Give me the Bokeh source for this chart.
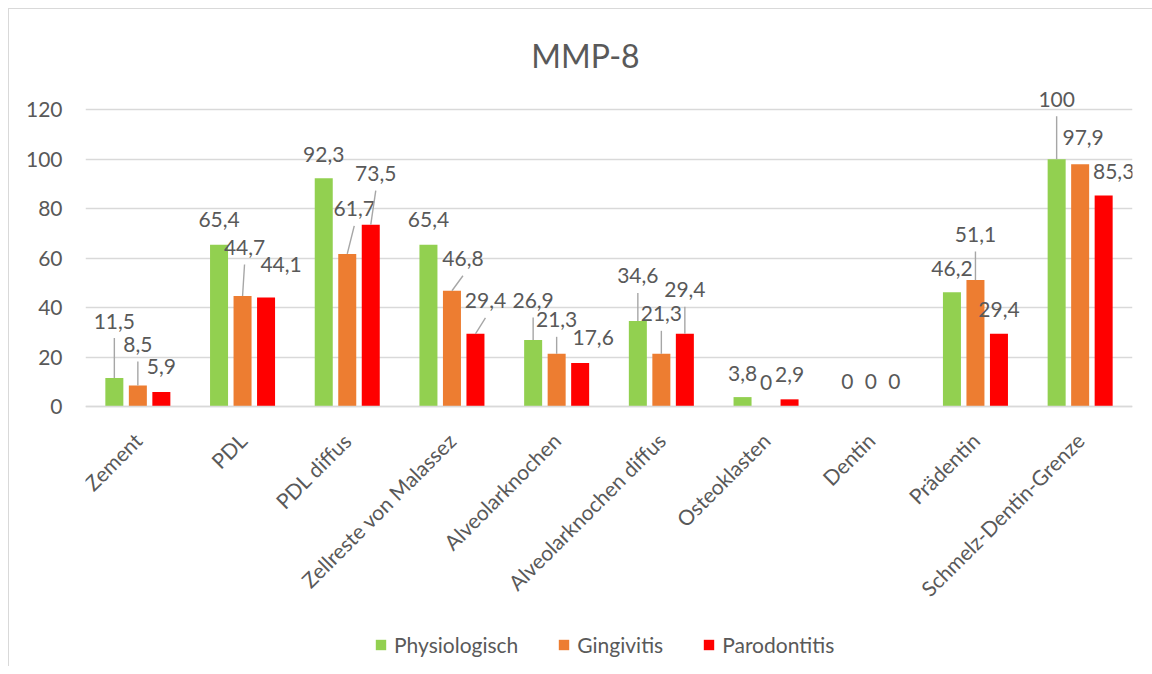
import math
from bokeh.plotting import figure
from bokeh.models import Range1d, FixedTicker, Label, Legend, LegendItem, ColumnDataSource
from bokeh.embed import file_html
from bokeh.resources import INLINE
from bokeh.core.properties import value

# ---------------- data ----------------
title_text = "MMP-8"
categories = ["Zement", "PDL", "PDL diffus", "Zellreste von Malassez", "Alveolarknochen",
              "Alveolarknochen diffus", "Osteoklasten", "Dentin", "Prädentin",
              "Schmelz-Dentin-Grenze"]
series_names = ["Physiologisch", "Gingivitis", "Parodontitis"]
physiologisch = [11.5, 65.4, 92.3, 65.4, 26.9, 34.6, 3.8, 0, 46.2, 100]
gingivitis = [8.5, 44.7, 61.7, 46.8, 21.3, 21.3, 0, 0, 51.1, 97.9]
parodontitis = [5.9, 44.1, 73.5, 29.4, 17.6, 29.4, 2.9, 0, 29.4, 85.3]
y_ticks = [0, 20, 40, 60, 80, 100, 120]

# ---------------- style ----------------
colors = ["#92D050", "#ED7D31", "#FF0000"]
TEXT = "#595959"
GRID = "#d9d9d9"
FONT = "Lato"
FS = "21px"
# data label placement (pixel offset from bar top centre: dx, dy up, leader line?)
label_style = [
    [(0, 57, 1), (0, 25, 0), (0, 24, 0), (0, 25, 0), (0, 39.5, 1), (0, 45, 1), (0, 24, 0), (0, 25, 0), (0, 24, 0), (0, 60, 1)],
    [(0, 41, 1), (2, 48.5, 1), (7, 45, 1), (11, 32, 1), (0, 34, 1), (0, 40, 1), (0, 24, 0), (0, 25, 0), (0, 45.6, 1), (3, 27, 0)],
    [(0, 25, 0), (15, 33, 0), (5, 51, 1), (10, 33, 1), (13, 25.5, 0), (0, 44, 1), (0, 25, 0), (0, 25, 0), (0, 24, 0), (10, 24, 0)],
]

W, H = 1144, 658
ML, MR, MT, MB = 76, 21, 26, 8
ZERO_PX = 397            # pixel row of value 0 inside the figure
YMAX = 150
frame_w = W - ML - MR
ppx = frame_w / len(categories)
ppu = (ZERO_PX - MT) / YMAX
YMIN = -(H - MB - ZERO_PX) / ppu
DODGE = 0.2245
BAR_W = 0.172

p = figure(width=W, height=H, x_range=Range1d(-0.5, len(categories) - 0.5),
           y_range=Range1d(YMIN, YMAX), output_backend="svg", toolbar_location=None,
           min_border_left=ML, min_border_right=MR, min_border_top=MT, min_border_bottom=MB)
p.styles = {"margin-left": "8px", "margin-top": "8px",
            "border-left": "1px solid #d9d9d9", "border-top": "1px solid #d9d9d9"}
p.outline_line_color = None
p.background_fill_color = "white"
p.border_fill_color = "white"

p.xgrid.visible = False
p.ygrid.ticker = FixedTicker(ticks=y_ticks)
p.ygrid.grid_line_color = GRID
p.ygrid.grid_line_width = 1.4

p.yaxis.ticker = FixedTicker(ticks=y_ticks)
p.yaxis.axis_line_color = None
p.yaxis.major_tick_line_color = None
p.yaxis.minor_tick_line_color = None
p.yaxis.major_tick_out = 0
p.yaxis.major_label_standoff = 23
p.yaxis.major_label_text_font = FONT
p.yaxis.major_label_text_font_size = FS
p.yaxis.major_label_text_color = TEXT

p.xaxis.fixed_location = 0
p.xaxis.ticker = FixedTicker(ticks=list(range(len(categories))))
p.xaxis.major_label_overrides = {i: c for i, c in enumerate(categories)}
p.xaxis.axis_line_color = GRID
p.xaxis.axis_line_width = 1.6
p.xaxis.major_tick_line_color = None
p.xaxis.minor_tick_line_color = None
p.xaxis.major_tick_out = 0
p.xaxis.major_label_standoff = 30
p.xaxis.major_label_orientation = math.pi / 4
p.xaxis.major_label_text_font = FONT
p.xaxis.major_label_text_font_size = FS
p.xaxis.major_label_text_color = TEXT

all_series = [physiologisch, gingivitis, parodontitis]
renderers = []
for k, vals in enumerate(all_series):
    xs = [i + (k - 1) * DODGE for i in range(len(categories))]
    src = ColumnDataSource(dict(x=xs, top=vals))
    r = p.vbar(x="x", top="top", bottom=0, width=BAR_W, source=src,
               fill_color=colors[k], line_color=None)
    renderers.append(r)

    lx, ly, txt = [], [], []
    x0, y0, x1, y1 = [], [], [], []
    for i, v in enumerate(vals):
        dx, dy, lead = label_style[k][i]
        tx = xs[i] + dx / ppx
        ty = v + dy / ppu
        lx.append(tx)
        ly.append(ty)
        txt.append(("%g" % v).replace(".", ","))
        if lead:
            x0.append(xs[i]); y0.append(v)
            x1.append(tx); y1.append(ty - 17 / ppu)
    if x0:
        p.segment(x0=x0, y0=y0, x1=x1, y1=y1, line_color="#a6a6a6", line_width=1.4)
    p.text(x=lx, y=ly, text=txt, text_font=value(FONT), text_font_size=FS,
           text_color=TEXT, text_align="center", text_baseline="middle")

title_x = (584 - 84) / ppx - 0.5
title_y = (405 - 54) / ppu
p.add_layout(Label(x=title_x, y=title_y, text=title_text, text_font=FONT,
                   text_font_size="32px", text_color=TEXT, text_align="center",
                   text_baseline="middle"))

legend = Legend(items=[LegendItem(label=n, renderers=[r]) for n, r in zip(series_names, renderers)],
                orientation="horizontal", location=(289, 2),
                glyph_width=13, glyph_height=13, label_standoff=7, spacing=39,
                padding=0, margin=0, border_line_color=None, background_fill_alpha=0,
                label_text_font=FONT, label_text_font_size=FS, label_text_color=TEXT)
p.add_layout(legend)

open("out.html", "w").write(file_html(p, INLINE))
